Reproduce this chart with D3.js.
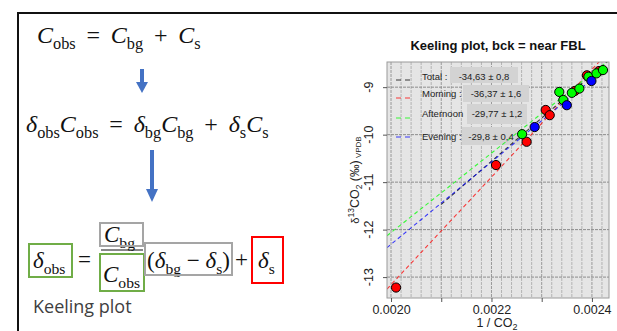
<!DOCTYPE html>
<html>
<head>
<meta charset="utf-8">
<script src="https://cdn.jsdelivr.net/npm/d3@7"></script>
<style>
  body { margin: 0; background: #fff; }
  svg { display: block; }
</style>
</head>
<body>
<div id="chart"></div>
<script>
// ---- data ----
const groups = ["Total", "Morning", "Afternoon", "Evening"];
const groupColors = ["#000000", "#ff0000", "#00ff00", "#0000ff"];
const legendLabels = ["Total :", "Morning :", "Afternoon", "Evening :"];
const legendValues = ["-34,63 ± 0,8", "-36,37 ± 1,6", "-29,77 ± 1,2", "-29,8 ± 0,4"];

// fitted lines as drawn (delta = intercept + slope * (1/CO2))
const lineSlope = [9100, 11330, 8364, 8680];
const lineIntercept = [-30.58, -35.82, -28.79, -29.67];
const lineXStart = [0.00210, 0.001992, 0.001992, 0.001992];

const morningX = [0.00201, 0.002209, 0.00227, 0.002308, 0.002316, 0.002366, 0.002390, 0.002414];
const morningY = [-13.22, -10.64, -10.15, -9.48, -9.59, -9.08, -8.75, -8.66];
const afternoonX = [0.002261, 0.002335, 0.002343, 0.002360, 0.002375, 0.002393, 0.002409, 0.002422];
const afternoonY = [-9.99, -9.10, -9.27, -9.12, -9.03, -8.78, -8.71, -8.64];
const eveningX = [0.002286, 0.002350, 0.002399];
const eveningY = [-9.84, -9.38, -8.87];

const xTicks = [0.0020, 0.0021, 0.0022, 0.0023, 0.0024];
const xTickLabels = ["0.0020", "", "0.0022", "", "0.0024"];
const yTicks = [-13, -12, -11, -10, -9];

const W = 617, H = 331;
const svg = d3.select('#chart').append('svg')
  .attr('width', W).attr('height', H);

// ---- left panel: equations ----
svg.append('line').attr('x1', 17).attr('x2', W).attr('y1', 13).attr('y2', 13)
  .attr('stroke', '#111').attr('stroke-width', 2);
svg.append('line').attr('x1', 18).attr('x2', 18).attr('y1', 12).attr('y2', H)
  .attr('stroke', '#111').attr('stroke-width', 2);

function mathText(x, y, size, parts) {
  const t = svg.append('text').attr('x', x).attr('y', y)
    .attr('font-family', 'Liberation Serif, Times New Roman, serif')
    .attr('font-size', size).attr('fill', '#111').attr('xml:space', 'preserve');
  let down = false;
  parts.forEach(([s, k]) => {
    const sp = t.append('tspan').text(s);
    if (k === 'i') sp.attr('font-style', 'italic');
    if (k === 's') {
      sp.attr('font-size', size * 0.68);
      if (!down) { sp.attr('dy', size * 0.26); down = true; }
    } else if (down) {
      sp.attr('dy', -size * 0.26); down = false;
    }
  });
  return t;
}

const EQ = "\u2009 = \u2009", PL = "\u2009 + \u2009";
mathText(37, 43, 24, [["C", "i"], ["obs", "s"], [EQ, "r"], ["C", "i"], ["bg", "s"],
  [PL, "r"], ["C", "i"], ["s", "s"]]);
mathText(26, 132, 24, [["δ", "i"], ["obs", "s"], ["C", "i"], ["obs", "s"], [EQ, "r"],
  ["δ", "i"], ["bg", "s"], ["C", "i"], ["bg", "s"], [PL, "r"], ["δ", "i"], ["s", "s"],
  ["C", "i"], ["s", "s"]]);

function arrow(cx, y0, y1, headTop) {
  svg.append('rect').attr('x', cx - 2).attr('y', y0).attr('width', 4).attr('height', headTop - y0 + 1)
    .attr('fill', '#4472c4');
  svg.append('path').attr('d', `M${cx - 6},${headTop}L${cx + 6},${headTop}L${cx},${y1}Z`)
    .attr('fill', '#4472c4');
}
arrow(142, 69, 93, 82);
arrow(152, 150, 202, 189);

mathText(33, 268, 23, [["δ", "i"], ["obs", "s"]]);
mathText(78, 267, 23, [["=", "r"]]);
mathText(104, 242, 23, [["C", "i"], ["bg", "s"]]);
mathText(103, 282, 23, [["C", "i"], ["obs", "s"]]);
svg.append('line').attr('x1', 101).attr('x2', 143).attr('y1', 250).attr('y2', 250)
  .attr('stroke', '#111').attr('stroke-width', 1);
mathText(147, 268, 23, [["(", "r"], ["δ", "i"], ["bg", "s"], [" \u2212 ", "r"], ["δ", "i"], ["s", "s"], [")", "r"]]);
mathText(235, 267, 23, [["+", "r"]]);
mathText(258, 268, 23, [["δ", "i"], ["s", "s"]]);

const boxes = [
  [29, 244, 43, 33, '#70ad47'],
  [100, 223, 43, 23, '#a5a5a5'],
  [100, 254, 44, 37, '#70ad47'],
  [145, 243, 87, 32, '#a5a5a5'],
  [252, 237, 31, 46, '#ff0000']
];
boxes.forEach(b => svg.append('rect').attr('x', b[0]).attr('y', b[1]).attr('width', b[2]).attr('height', b[3])
  .attr('fill', 'none').attr('stroke', b[4]).attr('stroke-width', 2));

svg.append('text').attr('x', 33).attr('y', 313).text('Keeling plot')
  .attr('font-family', 'Open Sans, Lato, sans-serif').attr('font-size', 18).attr('fill', '#404040');

// ---- right panel: Keeling plot ----
const x = d3.scaleLinear().domain([0.001992, 0.002434]).range([387, 609]);
const y = d3.scaleLinear().domain([-13.44, -8.47]).range([298, 62]);
const [x0, x1] = x.range(), [y0, y1] = y.range();
const font = 'Liberation Sans, Arial, sans-serif';

svg.append('text').attr('x', 498).attr('y', 50).attr('text-anchor', 'middle')
  .attr('font-family', font).attr('font-weight', 'bold').attr('font-size', 13)
  .attr('fill', '#111').text('Keeling plot, bck = near FBL');

svg.append('rect').attr('x', x0).attr('y', y1).attr('width', x1 - x0).attr('height', y0 - y1)
  .attr('fill', '#e5e5e5');

svg.append('clipPath').attr('id', 'clip').append('rect')
  .attr('x', x0).attr('y', y1).attr('width', x1 - x0).attr('height', y0 - y1);

const plot = svg.append('g').attr('clip-path', 'url(#clip)');

const minorX = d3.range(0, 23).map(i => 0.00198 + i * 0.00002).filter(v => v > x.domain()[0] && v < x.domain()[1]);
plot.selectAll('.vgrid').data(minorX).enter().append('line')
  .attr('x1', d => x(d)).attr('x2', d => x(d)).attr('y1', y1).attr('y2', y0)
  .attr('stroke', d => Math.abs(Math.round(d * 10000) - d * 10000) < 1e-6 ? '#999' : '#b3b3b3')
  .attr('stroke-width', 1).attr('stroke-dasharray', '3,1');
plot.selectAll('.hgrid').data(yTicks).enter().append('line')
  .attr('x1', x0).attr('x2', x1).attr('y1', d => y(d)).attr('y2', d => y(d))
  .attr('stroke', '#8c8c8c').attr('stroke-width', 1).attr('stroke-dasharray', '3,1');

// legend boxes
const legY = [80, 98, 118, 137];
const valBox = [[450, 67, 68, 16], [463, 85, 66, 17], [467, 104, 60, 20], [462, 127, 58, 18]];
const valX = [484, 496, 497, 491];
const legBase = [80, 97, 117, 140];
groups.forEach((g, i) => {
  plot.append('rect').attr('x', valBox[i][0]).attr('y', valBox[i][1])
    .attr('width', valBox[i][2]).attr('height', valBox[i][3]).attr('fill', '#d3d3d3');
});

// fitted lines
groups.forEach((g, i) => {
  const xa = lineXStart[i], xb = x.domain()[1];
  plot.append('line')
    .attr('x1', x(xa)).attr('y1', y(lineIntercept[i] + lineSlope[i] * xa))
    .attr('x2', x(xb)).attr('y2', y(lineIntercept[i] + lineSlope[i] * xb))
    .attr('stroke', groupColors[i]).attr('stroke-width', 1.1).attr('stroke-dasharray', '4,3')
    .attr('opacity', 0.75);
});

// points
const series = [
  { xs: morningX, ys: morningY, c: groupColors[1] },
  { xs: afternoonX, ys: afternoonY, c: groupColors[2] },
  { xs: eveningX, ys: eveningY, c: groupColors[3] }
];
series.forEach(s => {
  plot.selectAll(null).data(s.xs.map((v, i) => [v, s.ys[i]])).enter().append('circle')
    .attr('cx', d => x(d[0])).attr('cy', d => y(d[1])).attr('r', 4.6)
    .attr('fill', s.c).attr('stroke', '#000').attr('stroke-width', 1);
});

groups.forEach((g, i) => {
  plot.append('line').attr('x1', 396).attr('x2', 412).attr('y1', legY[i]).attr('y2', legY[i])
    .attr('stroke', groupColors[i]).attr('stroke-width', 1.2).attr('stroke-dasharray', '5,4').attr('opacity', 0.75);
  plot.append('text').attr('x', 422).attr('y', legBase[i]).text(legendLabels[i])
    .attr('font-family', font).attr('font-size', 9.5).attr('fill', '#222');
  plot.append('text').attr('x', valX[i]).attr('y', legBase[i]).attr('text-anchor', 'middle')
    .text(legendValues[i]).attr('font-family', font).attr('font-size', 9.5).attr('fill', '#222');
});

svg.append('rect').attr('x', x0).attr('y', y1).attr('width', x1 - x0).attr('height', y0 - y1)
  .attr('fill', 'none').attr('stroke', '#9a9a9a').attr('stroke-width', 1);

// x axis
const xAxis = svg.append('g').attr('transform', `translate(0,${y0})`)
  .call(d3.axisBottom(x).tickValues(xTicks).tickSize(4).tickPadding(3)
    .tickFormat((d, i) => xTickLabels[i]));
xAxis.select('.domain').remove();
xAxis.selectAll('line').attr('stroke', '#555');
xAxis.selectAll('text').attr('font-family', font).attr('font-size', 12.5).attr('fill', '#222');

svg.append('text').attr('x', 497).attr('y', 327).attr('text-anchor', 'middle')
  .attr('font-family', font).attr('font-size', 12.5).attr('fill', '#222')
  .call(t => {
    t.append('tspan').text('1 / CO');
    t.append('tspan').text('2').attr('font-size', 9).attr('dy', 3);
  });

// y axis
const yAxis = svg.append('g').attr('transform', `translate(${x0},0)`)
  .call(d3.axisLeft(y).tickValues(yTicks).tickSize(4).tickFormat(''));
yAxis.select('.domain').remove();
yAxis.selectAll('line').attr('stroke', '#555');
svg.selectAll('.ylab').data(yTicks).enter().append('text')
  .attr('transform', d => `translate(373,${y(d)}) rotate(-90)`)
  .attr('text-anchor', 'middle').attr('font-family', font).attr('font-size', 12.5).attr('fill', '#222')
  .text(d => String(d));

svg.append('text').attr('transform', 'translate(359,180) rotate(-90)').attr('text-anchor', 'middle')
  .attr('font-family', font).attr('font-size', 12.5).attr('fill', '#222')
  .call(t => {
    t.append('tspan').text('δ').attr('font-size', 11);
    t.append('tspan').text('13').attr('font-size', 8.5).attr('dy', -5);
    t.append('tspan').text('CO').attr('dy', 5);
    t.append('tspan').text('2').attr('font-size', 8.5).attr('dy', 3);
    t.append('tspan').text(' (‰)').attr('dy', -3);
    t.append('tspan').text(' VPDB').attr('font-size', 8).attr('dy', 2);
  });
</script>
</body>
</html>
